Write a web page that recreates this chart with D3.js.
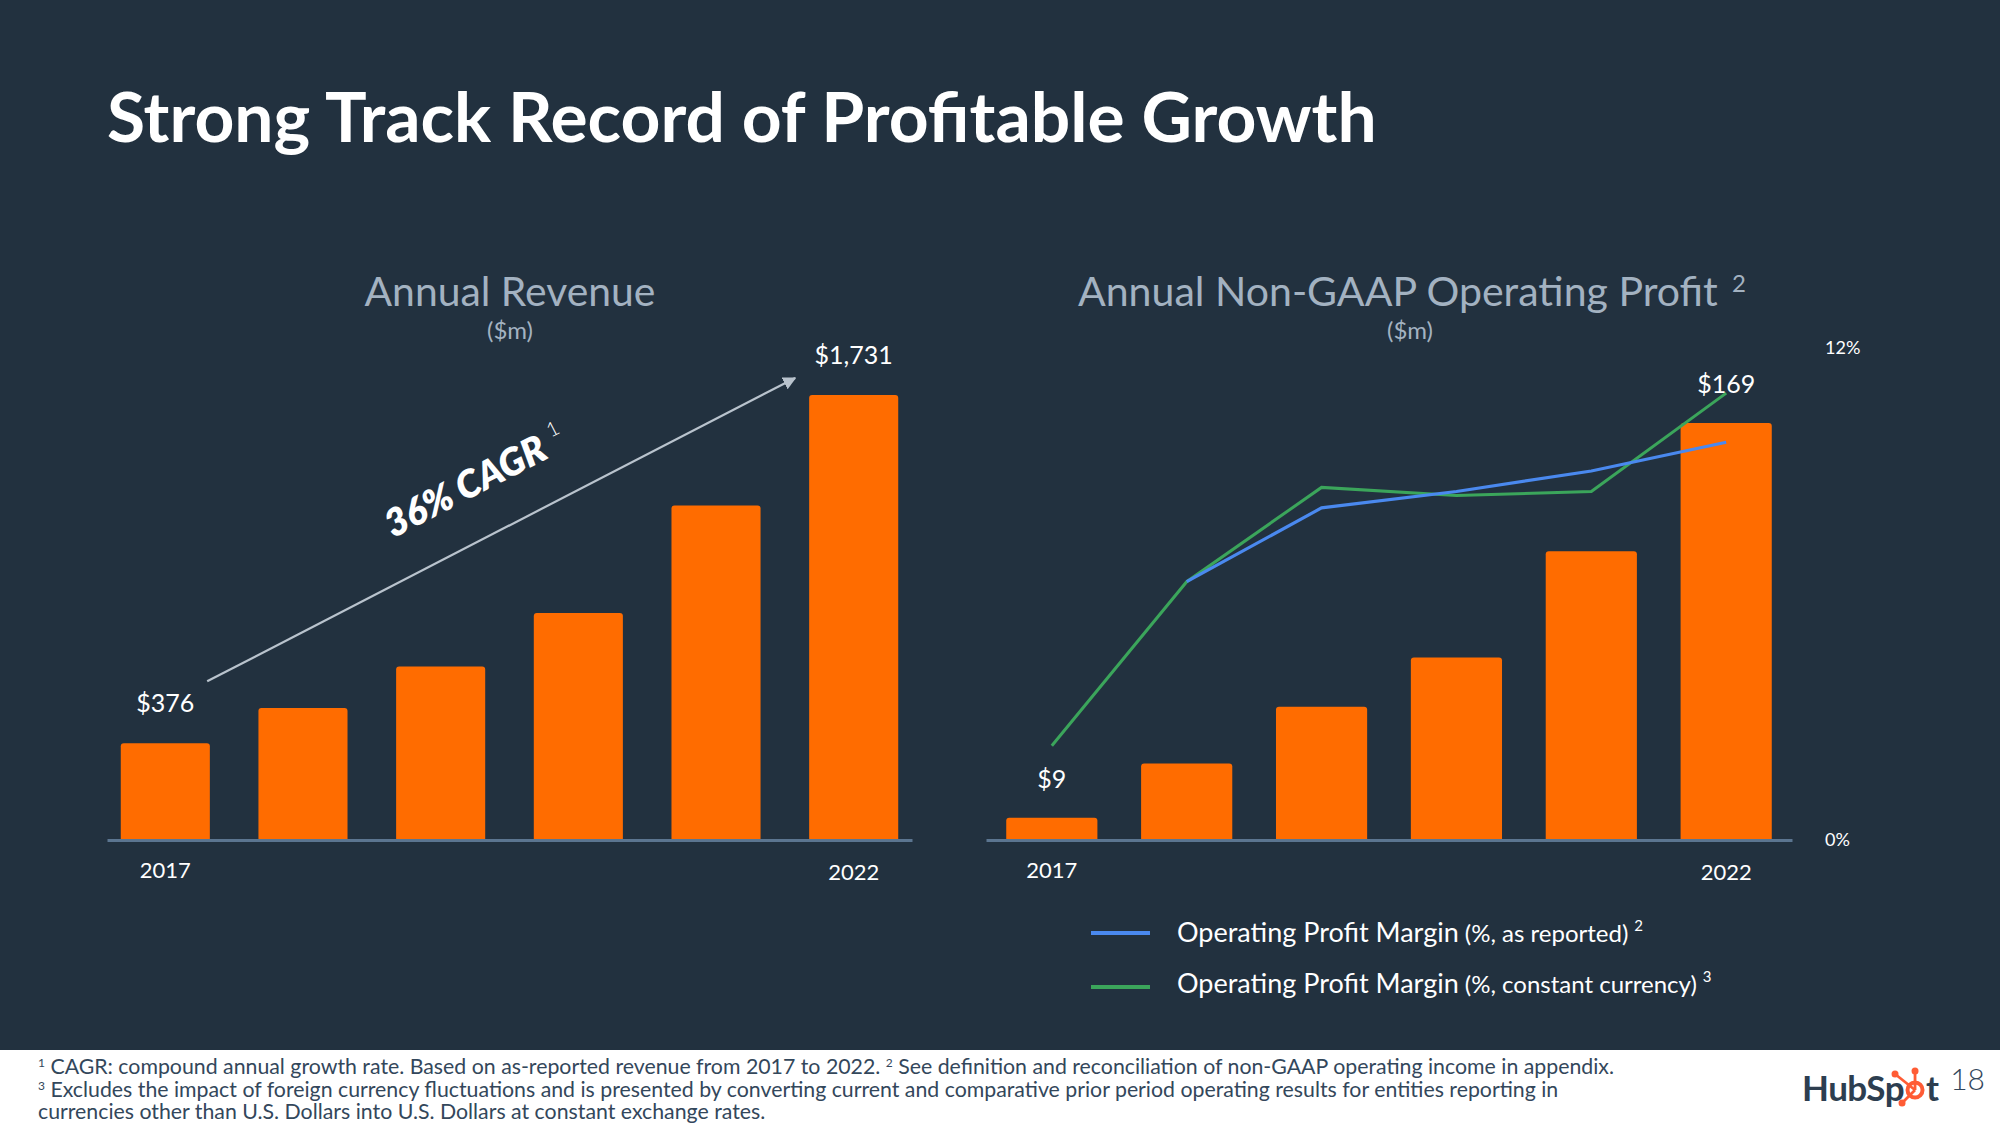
<!DOCTYPE html>
<html><head><meta charset="utf-8">
<script src="https://cdn.jsdelivr.net/npm/d3@7"></script>
<style>body{margin:0;background:#fff;} svg{display:block;}</style>
</head><body>
<svg id="c" width="2000" height="1125"></svg>
<script>
// ---- data ----
const years = ["2017", "2018", "2019", "2020", "2021", "2022"];
const revenue = [376, 513, 675, 883, 1301, 1731];
const opProfit = [9, 31, 54, 74, 117, 169];
const marginReported = [null, 6.3, 8.1, 8.5, 9.0, 9.7];
const marginConstant = [2.3, 6.3, 8.6, 8.4, 8.5, 10.9];
const labelledIdx = [0, 5];
const yearTicks = ["2017", "2022"];
const pctTicks = [0, 12];
const legendItems = [
  {main: "Operating Profit Margin", sub: "(%, as reported)", note: "2"},
  {main: "Operating Profit Margin", sub: "(%, constant currency)", note: "3"}
];

const BG = "#22313f", ORANGE = "#ff6c00", BLUE = "#4a89ef", GREEN = "#3ba55b";
const AXIS = "#5b7590", SUBT = "#a3b2c1", FONT = "Lato, 'Open Sans', sans-serif";

const svg = d3.select("#c").style("font-family", FONT);
svg.append("rect").attr("width", 2000).attr("height", 1125).attr("fill", BG);
svg.append("rect").attr("y", 1050).attr("width", 2000).attr("height", 75).attr("fill", "#fff");

function fit(sel, w) {
  const fs = parseFloat(sel.attr("font-size"));
  const len = sel.node().getComputedTextLength();
  sel.attr("font-size", fs * w / len);
}

// title
const title = svg.append("text").attr("x", 107).attr("y", 142)
  .attr("font-size", 70).attr("font-weight", 700).attr("fill", "#fff")
  .text("Strong Track Record of Profitable Growth");
fit(title, 1270);

const base = 840;

// ---- left chart ----
const xL = d3.scaleBand().domain(years).range([107, 912]).paddingInner(0.353).paddingOuter(0.1);
const yL = d3.scaleLinear().domain([0, 1731]).range([base, 395]);
const gL = svg.append("g");
const tL = gL.append("text").attr("x", 510).attr("y", 306).attr("text-anchor", "middle")
  .attr("font-size", 40).attr("fill", SUBT).text("Annual Revenue");
fit(tL, 291);
gL.append("text").attr("x", 510).attr("y", 339).attr("text-anchor", "middle")
  .attr("font-size", 24).attr("fill", SUBT).text("($m)");
gL.selectAll("rect.bar").data(revenue).join("rect").attr("class", "bar")
  .attr("x", (d, i) => xL(years[i])).attr("width", xL.bandwidth())
  .attr("y", d => yL(d)).attr("height", d => base - yL(d) + 2).attr("rx", 3)
  .attr("fill", ORANGE);
const axL = gL.append("g").attr("transform", `translate(0,${base})`)
  .call(d3.axisBottom(xL).tickSize(0).tickFormat(""));
axL.select(".domain").attr("stroke", AXIS).attr("stroke-width", 3);
gL.selectAll("text.val").data(labelledIdx).join("text").attr("class", "val")
  .attr("x", i => xL(years[i]) + xL.bandwidth() / 2).attr("y", i => yL(revenue[i]) - 31)
  .attr("text-anchor", "middle").attr("font-size", 25).attr("fill", "#fff")
  .text(i => "$" + d3.format(",")(revenue[i]));
gL.selectAll("text.yr").data(yearTicks).join("text").attr("class", "yr")
  .attr("x", d => xL(d) + xL.bandwidth() / 2).attr("y", (d, i) => 878 + i * 2)
  .attr("text-anchor", "middle").attr("font-size", 22).attr("fill", "#fff").text(d => d);

// CAGR arrow
const defs = svg.append("defs");
defs.append("marker").attr("id", "ah").attr("viewBox", "0 0 10 10").attr("refX", 9).attr("refY", 5)
  .attr("markerWidth", 6).attr("markerHeight", 6).attr("orient", "auto")
  .append("path").attr("d", "M0,0 L10,5 L0,10 z").attr("fill", "#b9c3cd");
const ax0 = xL(years[0]) + xL.bandwidth() * 0.97, ay0 = yL(revenue[0]) - 62;
const ax1 = xL(years[5]) - 14, ay1 = yL(revenue[5]) - 17;
gL.append("line").attr("x1", ax0).attr("y1", ay0).attr("x2", ax1).attr("y2", ay1)
  .attr("stroke", "#b9c3cd").attr("stroke-width", 2.2).attr("marker-end", "url(#ah)");
const ang = Math.atan2(ay1 - ay0, ax1 - ax0) * 180 / Math.PI;
const cg = gL.append("text").attr("transform", `translate(481,493) rotate(${ang})`)
  .attr("text-anchor", "middle").attr("font-size", 38).attr("font-weight", 800)
  .attr("font-style", "italic").attr("fill", "#fff");
cg.append("tspan").text("36% CAGR");
cg.append("tspan").attr("dx", 10).attr("dy", -17).attr("font-size", 20).attr("font-weight", 300)
  .attr("font-style", "normal").text("1");

// ---- right chart ----
const xR = d3.scaleBand().domain(years).range([986, 1792]).paddingInner(0.324).paddingOuter(0.15);
const yR = d3.scaleLinear().domain([0, 169]).range([base, 423]);
const yPct = d3.scaleLinear().domain([0, 12]).range([base, 348]);
const gR = svg.append("g");
const tR = gR.append("text").attr("x", 1078).attr("y", 306)
  .attr("font-size", 40).attr("fill", SUBT).text("Annual Non-GAAP Operating Profit");
fit(tR, 640);
gR.append("text").attr("x", 1732).attr("y", 292).attr("font-size", 24).attr("fill", SUBT).text("2");
gR.append("text").attr("x", 1410).attr("y", 339).attr("text-anchor", "middle")
  .attr("font-size", 24).attr("fill", SUBT).text("($m)");
gR.selectAll("rect.bar").data(opProfit).join("rect").attr("class", "bar")
  .attr("x", (d, i) => xR(years[i])).attr("width", xR.bandwidth())
  .attr("y", d => yR(d)).attr("height", d => base - yR(d) + 2).attr("rx", 3)
  .attr("fill", ORANGE);
const axR = gR.append("g").attr("transform", `translate(0,${base})`)
  .call(d3.axisBottom(xR).tickSize(0).tickFormat(""));
axR.select(".domain").attr("stroke", AXIS).attr("stroke-width", 3);
const axP = gR.append("g").attr("transform", "translate(1822,0)")
  .call(d3.axisRight(yPct).tickValues(pctTicks).tickSize(0).tickFormat(d => d + "%"));
axP.select(".domain").remove();
axP.selectAll("text").attr("font-size", 18).attr("fill", "#fff").attr("font-family", FONT);

const cx = i => xR(years[i]) + xR.bandwidth() / 2;
const line = d3.line().defined(d => d != null).x((d, i) => cx(i)).y(d => yPct(d));
gR.append("path").attr("d", line(marginConstant)).attr("fill", "none")
  .attr("stroke", GREEN).attr("stroke-width", 3);
gR.append("path").attr("d", line(marginReported)).attr("fill", "none")
  .attr("stroke", BLUE).attr("stroke-width", 3.2);

gR.selectAll("text.val").data(labelledIdx).join("text").attr("class", "val")
  .attr("x", i => cx(i)).attr("y", i => yR(opProfit[i]) - 30)
  .attr("text-anchor", "middle").attr("font-size", 25).attr("fill", "#fff")
  .text(i => "$" + opProfit[i]);
gR.selectAll("text.yr").data(yearTicks).join("text").attr("class", "yr")
  .attr("x", d => xR(d) + xR.bandwidth() / 2).attr("y", (d, i) => 878 + i * 2)
  .attr("text-anchor", "middle").attr("font-size", 22).attr("fill", "#fff").text(d => d);

// legend
const lg = svg.append("g");
[BLUE, GREEN].forEach((col, k) => {
  const y = 933 + k * 54;
  lg.append("line").attr("x1", 1091).attr("x2", 1150).attr("y1", y).attr("y2", y)
    .attr("stroke", col).attr("stroke-width", 4);
  const t = lg.append("text").attr("x", 1177).attr("y", y + 9 - k * 3).attr("fill", "#fff");
  t.append("tspan").attr("font-size", 27).text(legendItems[k].main);
  t.append("tspan").attr("font-size", 24).text(" " + legendItems[k].sub);
  t.append("tspan").attr("font-size", 15).attr("dx", 6).attr("dy", -11).text(legendItems[k].note);
});

// footer
const foot = [
  [["1", true], [" CAGR: compound annual growth rate. Based on as-reported revenue from 2017 to 2022. ", false], ["2", true], [" See definition and reconciliation of non-GAAP operating income in appendix.", false]],
  [["3", true], [" Excludes the impact of foreign currency fluctuations and is presented by converting current and comparative prior period operating results for entities reporting in", false]],
  [["", false], ["currencies other than U.S. Dollars into U.S. Dollars at constant exchange rates.", false]]
];
foot.forEach((parts, r) => {
  const t = svg.append("text").attr("x", 38).attr("y", 1074 + r * 22.5)
    .attr("font-size", 21.3).attr("fill", "#33475b");
  parts.forEach(([s, sup]) => {
    const ts = t.append("tspan").text(s);
    if (sup) ts.attr("font-size", 12).attr("baseline-shift", "super");
  });
});

// logo
const logo = svg.append("g");
const hs = logo.append("text").attr("x", 1802).attr("y", 1101).attr("font-size", 35)
  .attr("font-weight", 700).attr("fill", "#2d3e50").attr("letter-spacing", -0.5).text("HubSp");
const hw = hs.node().getComputedTextLength();
const sx = 1802 + hw + 11, sy = 1090;
const sp = logo.append("g").attr("stroke", "#ff5c35").attr("fill", "#ff5c35");
sp.append("circle").attr("cx", sx).attr("cy", sy).attr("r", 7.5).attr("fill", "none").attr("stroke-width", 4);
[[0, -19], [-20, -16], [-13, 13]].forEach(([dx, dy]) => {
  sp.append("line").attr("x1", sx).attr("y1", sy).attr("x2", sx + dx).attr("y2", sy + dy).attr("stroke-width", 2.8);
  sp.append("circle").attr("cx", sx + dx).attr("cy", sy + dy).attr("r", 3.5).attr("stroke", "none");
});
logo.append("text").attr("x", sx + 11).attr("y", 1101).attr("font-size", 35)
  .attr("font-weight", 700).attr("fill", "#2d3e50").text("t");
logo.append("text").attr("x", 1985).attr("y", 1090).attr("text-anchor", "end").attr("font-size", 30)
  .attr("font-weight", 300).attr("fill", "#33475b").text("18");
</script>
</body></html>
